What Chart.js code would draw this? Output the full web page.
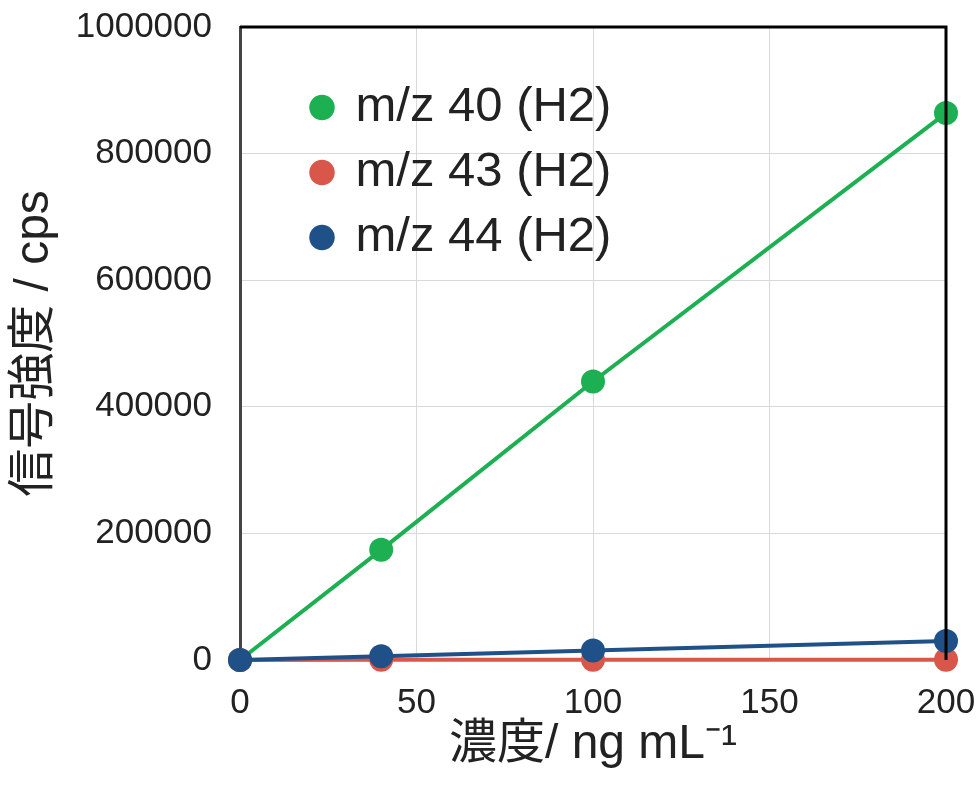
<!DOCTYPE html>
<html>
<head>
<meta charset="utf-8">
<script src="https://cdn.jsdelivr.net/npm/chart.js@4"></script>
<style>
  html, body { margin: 0; padding: 0; background: #fff; }
  #wrap { width: 978px; height: 788px; }
</style>
</head>
<body>
<div id="wrap"><canvas id="myChart" width="978" height="788"></canvas></div>
<script>
// Concentration (ng/mL) and signal (cps)
const conc = [0, 40, 100, 200];
const mz40 = [0, 174000, 440000, 864000];
const mz43 = [0, 200, 300, 500];
const mz44 = [0, 6000, 15000, 30000];

const seriesNames = ['m/z 40 (H2)', 'm/z 43 (H2)', 'm/z 44 (H2)'];
const seriesColors = ['#1db052', '#d9574a', '#1f5088'];

const FONT = "'Liberation Sans', Arial, 'Noto Sans CJK JP', sans-serif";

function toPoints(ys) {
    return conc.map((x, i) => ({ x: x, y: ys[i] }));
}

// box around the plot area
const frame = {
    id: 'frame',
    afterDatasetsDraw(chart) {
        const a = chart.chartArea;
        const c = chart.ctx;
        c.save();
        c.lineWidth = 3;
        c.strokeStyle = '#000';
        c.beginPath();
        c.moveTo(a.left, a.top);
        c.lineTo(a.right, a.top);
        c.lineTo(a.right, a.bottom);
        c.stroke();
        c.restore();
    }
};

// place the legend inside the plot, upper left
const legendShift = {
    id: 'legendShift',
    afterLayout(chart) {
        chart.legend.left = chart.chartArea.left + 57;
        chart.legend.top = chart.chartArea.top + 40;
    }
};

const ctx = document.getElementById('myChart').getContext('2d');
const allData = [mz40, mz43, mz44];
const chart = new Chart(ctx, {
    type: 'line',
    data: {
        datasets: allData.map((ys, i) => ({
            label: seriesNames[i],
            data: toPoints(ys),
            borderColor: seriesColors[i],
            backgroundColor: seriesColors[i],
            borderWidth: 4,
            pointRadius: 12,
            pointHoverRadius: 12,
            pointBorderWidth: 0,
            pointStyle: 'circle',
            tension: 0,
            clip: false,
            order: 2 - i
        }))
    },
    options: {
        responsive: false,
        animation: false,
        layout: { padding: { top: 27, right: 32, bottom: 0, left: 0 } },
        plugins: {
            tooltip: { enabled: false },
            legend: {
                position: 'chartArea',
                align: 'start',
                labels: {
                    usePointStyle: true,
                    boxWidth: 18,
                    boxHeight: 18,
                    padding: 16,
                    color: '#222',
                    font: { family: FONT, size: 49 },
                    sort: (a, b) => a.datasetIndex - b.datasetIndex
                }
            }
        },
        scales: {
            x: {
                type: 'linear',
                min: 0,
                max: 200,
                ticks: {
                    stepSize: 50,
                    padding: 22,
                    color: '#222',
                    font: { family: FONT, size: 35 }
                },
                grid: { color: '#d9d9d9', lineWidth: 1, drawTicks: false },
                border: { color: '#444', width: 2 },
                title: {
                    display: true,
                    text: '濃度/ ng mL⁻¹',
                    color: '#222',
                    font: { family: FONT, size: 48 },
                    padding: { top: 0, bottom: 14 }
                },
                afterFit(scale) {
                    scale.height = 128;
                    scale.paddingLeft = 0;
                    scale.paddingRight = 0;
                }
            },
            y: {
                min: 0,
                max: 1000000,
                ticks: {
                    stepSize: 200000,
                    padding: 28,
                    color: '#222',
                    font: { family: FONT, size: 35 },
                    callback: v => String(v)
                },
                grid: { color: '#d9d9d9', lineWidth: 1, drawTicks: false },
                border: { color: '#444', width: 3 },
                title: {
                    display: true,
                    text: '信号強度 / cps',
                    color: '#222',
                    font: { family: FONT, size: 48 },
                    padding: { top: 6, bottom: 0 }
                },
                afterFit(scale) {
                    scale.width = 240;
                    scale.paddingTop = 0;
                    scale.paddingBottom = 0;
                }
            }
        }
    },
    plugins: [frame, legendShift]
});
</script>
</body>
</html>
